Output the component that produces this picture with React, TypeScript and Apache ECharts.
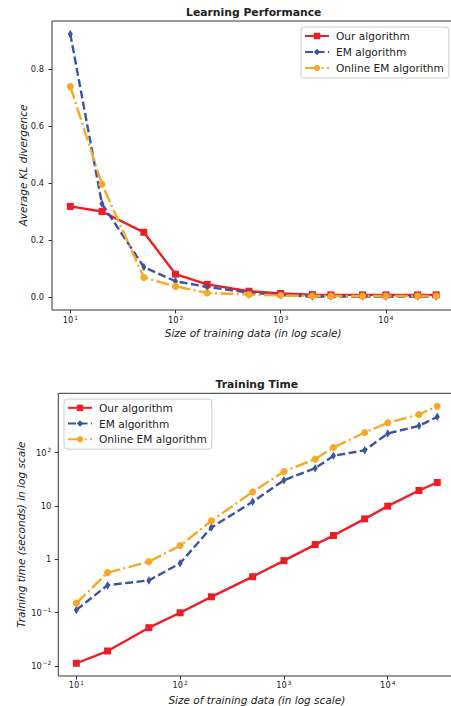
import React, { useEffect, useRef } from "react";
import * as echarts from "echarts";

const seriesNames = ["Our algorithm", "EM algorithm", "Online EM algorithm"];
const sizes = [10, 20, 50, 100, 200, 500, 1000, 2000, 3000, 6000, 10000, 20000, 30000];

const klOurs = [0.318, 0.3, 0.227, 0.08, 0.044, 0.02, 0.012, 0.008, 0.007, 0.007, 0.007, 0.007, 0.007];
const klEM = [0.924, 0.327, 0.105, 0.055, 0.035, 0.015, 0.007, 0.001, 0.001, 0.001, 0.001, 0.001, 0.001];
const klOnline = [0.739, 0.396, 0.068, 0.037, 0.014, 0.008, 0.005, 0.003, 0.003, 0.003, 0.003, 0.003, 0.003];

const timeOurs = [0.0112, 0.019, 0.052, 0.099, 0.197, 0.47, 0.94, 1.88, 2.78, 5.7, 9.86, 19.4, 27.4];
const timeEM = [0.112, 0.326, 0.4, 0.84, 3.93, 11.9, 30.3, 50.8, 86.6, 110, 227, 316, 466];
const timeOnline = [0.15, 0.56, 0.9, 1.8, 5.23, 18.3, 44, 75, 124, 237, 360, 516, 739];

const xTicks = [10, 100, 1000, 10000];
const klTicks = [0, 0.2, 0.4, 0.6, 0.8];
const timeTicks = [0.01, 0.1, 1, 10, 100];

const titles = ["Learning Performance", "Training Time"];
const xName = "Size of training data (in log scale)";
const yNames = ["Average KL divergence", "Training time (seconds) in log scale"];

const colors = ["#ee1d25", "#3a53a4", "#f9a825"];
const FONT = "DejaVu Sans";
const TXT = "#222";

const pairs = (ys: number[]) => sizes.map((x, i) => [x, ys[i]]);

const supFmt = (v: number) => {
  const e = Math.round(Math.log10(v));
  const s = e < 0 ? "\u2212" + Math.abs(e) : String(e);
  return "{b|10}{s|" + s + "}";
};
const timeFmt = (v: number) => {
  const e = Math.round(Math.log10(v));
  if (e === 0) return "{b|1}";
  if (e === 1) return "{b|10}";
  return supFmt(v);
};

const richLabel = {
  b: { fontSize: 8.3, fontFamily: FONT, color: TXT, lineHeight: 11 },
  s: { fontSize: 5.8, fontFamily: FONT, color: TXT, verticalAlign: "top", lineHeight: 7, padding: [0, 0, 0, 1] },
};

const styles = [
  { symbol: "rect", symbolSize: 7, type: "solid" as any },
  { symbol: "diamond", symbolSize: [5, 8.5], type: [8, 3.5] as any },
  { symbol: "circle", symbolSize: 7, type: [13, 3.4, 2, 3.4] as any },
];

function makeSeries(idx: number, data: number[][], gi: number) {
  const st = styles[idx];
  return {
    name: seriesNames[idx],
    type: "line",
    xAxisIndex: gi,
    yAxisIndex: gi,
    data,
    symbol: st.symbol,
    symbolSize: st.symbolSize,
    showSymbol: true,
    color: colors[idx],
    itemStyle: { color: colors[idx] },
    lineStyle: { color: colors[idx], width: 2.4, type: st.type },
    emphasis: { disabled: true },
  };
}

export default function App() {
  const ref = useRef<HTMLDivElement>(null);
  useEffect(() => {
    if (!ref.current) return;
    const chart = echarts.init(ref.current, null, { renderer: "svg" });
    const nameStyle = { fontFamily: FONT, fontSize: 10.5, fontStyle: "italic", color: TXT };
    const xAxisBase = (gi: number, margin: number, gap: number) => ({
      type: "log",
      logBase: 10,
      gridIndex: gi,
      min: 6.7,
      max: 44770,
      name: xName,
      nameLocation: "middle",
      nameGap: gap,
      nameMoveOverlap: false,
      nameTextStyle: nameStyle,
      axisLine: { show: false, onZero: false },
      splitLine: { show: false },
      axisTick: { show: true, length: 3.5, customValues: xTicks, lineStyle: { color: "#333", width: 1 } },
      axisLabel: { customValues: xTicks, margin, formatter: supFmt, rich: richLabel },
    });
    const legendBase = (left: number, top: number, lh: number) => ({
      orient: "vertical",
      left,
      top,
      data: seriesNames,
      padding: [1, 5, 2, 3],
      itemWidth: 24,
      itemHeight: 8,
      itemGap: 0,
      backgroundColor: "rgba(255,255,255,0.85)",
      borderColor: "#cccccc",
      borderWidth: 1,
      borderRadius: 3,
      selectedMode: false,
      textStyle: { fontFamily: FONT, fontSize: 10.6, color: TXT, lineHeight: lh, padding: [0, 0, 0, 2] },
    });
    const option: any = {
      animation: false,
      backgroundColor: "#ffffff",
      graphic: [
        {
          type: "text",
          x: 253.7,
          y: 12,
          style: { text: titles[0], align: "center", verticalAlign: "middle", fontFamily: FONT, fontWeight: "bold", fontSize: 10.8, fill: TXT },
        },
        {
          type: "text",
          x: 256.8,
          y: 384.7,
          style: { text: titles[1], align: "center", verticalAlign: "middle", fontFamily: FONT, fontWeight: "bold", fontSize: 10.8, fill: TXT },
        },
      ],
      legend: [legendBase(301, 27, 16), legendBase(64, 399, 15.7)],
      grid: [
        { left: 52, top: 21, width: 402.4, height: 289, show: true, borderColor: "#333", borderWidth: 1, containLabel: false, outerBoundsMode: "none" },
        { left: 58.3, top: 393.3, width: 397, height: 282.7, show: true, borderColor: "#333", borderWidth: 1, containLabel: false, outerBoundsMode: "none" },
      ],
      xAxis: [xAxisBase(0, 4.5, 17), xAxisBase(1, 3.5, 18)],
      yAxis: [
        {
          type: "value",
          gridIndex: 0,
          min: -0.046,
          max: 0.9695,
          name: yNames[0],
          nameLocation: "middle",
          nameGap: 24,
          nameMoveOverlap: false,
          nameTextStyle: nameStyle,
          axisLine: { show: false, onZero: false },
          splitLine: { show: false },
          axisTick: { show: true, length: 3.5, customValues: klTicks, lineStyle: { color: "#333", width: 1 } },
          axisLabel: { customValues: klTicks, margin: 8, fontFamily: FONT, fontSize: 8.3, color: TXT, formatter: (v: number) => v.toFixed(1) },
        },
        {
          type: "log",
          logBase: 10,
          gridIndex: 1,
          min: 0.00646,
          max: 1288,
          name: yNames[1],
          nameLocation: "middle",
          nameGap: 31.5,
          nameMoveOverlap: false,
          nameTextStyle: nameStyle,
          axisLine: { show: false, onZero: false },
          splitLine: { show: false },
          axisTick: { show: true, length: 3.5, customValues: timeTicks, lineStyle: { color: "#333", width: 1 } },
          axisLabel: { customValues: timeTicks, margin: 7, formatter: timeFmt, rich: richLabel },
        },
      ],
      series: [
        makeSeries(0, pairs(klOurs), 0),
        makeSeries(1, pairs(klEM), 0),
        makeSeries(2, pairs(klOnline), 0),
        makeSeries(0, pairs(timeOurs), 1),
        makeSeries(1, pairs(timeEM), 1),
        makeSeries(2, pairs(timeOnline), 1),
      ],
    };
    chart.setOption(option);
    return () => chart.dispose();
  }, []);
  return (
    <div
      ref={ref}
      style={{ position: "absolute", left: 0, top: 0, width: 451, height: 706, background: "#fff" }}
    />
  );
}
